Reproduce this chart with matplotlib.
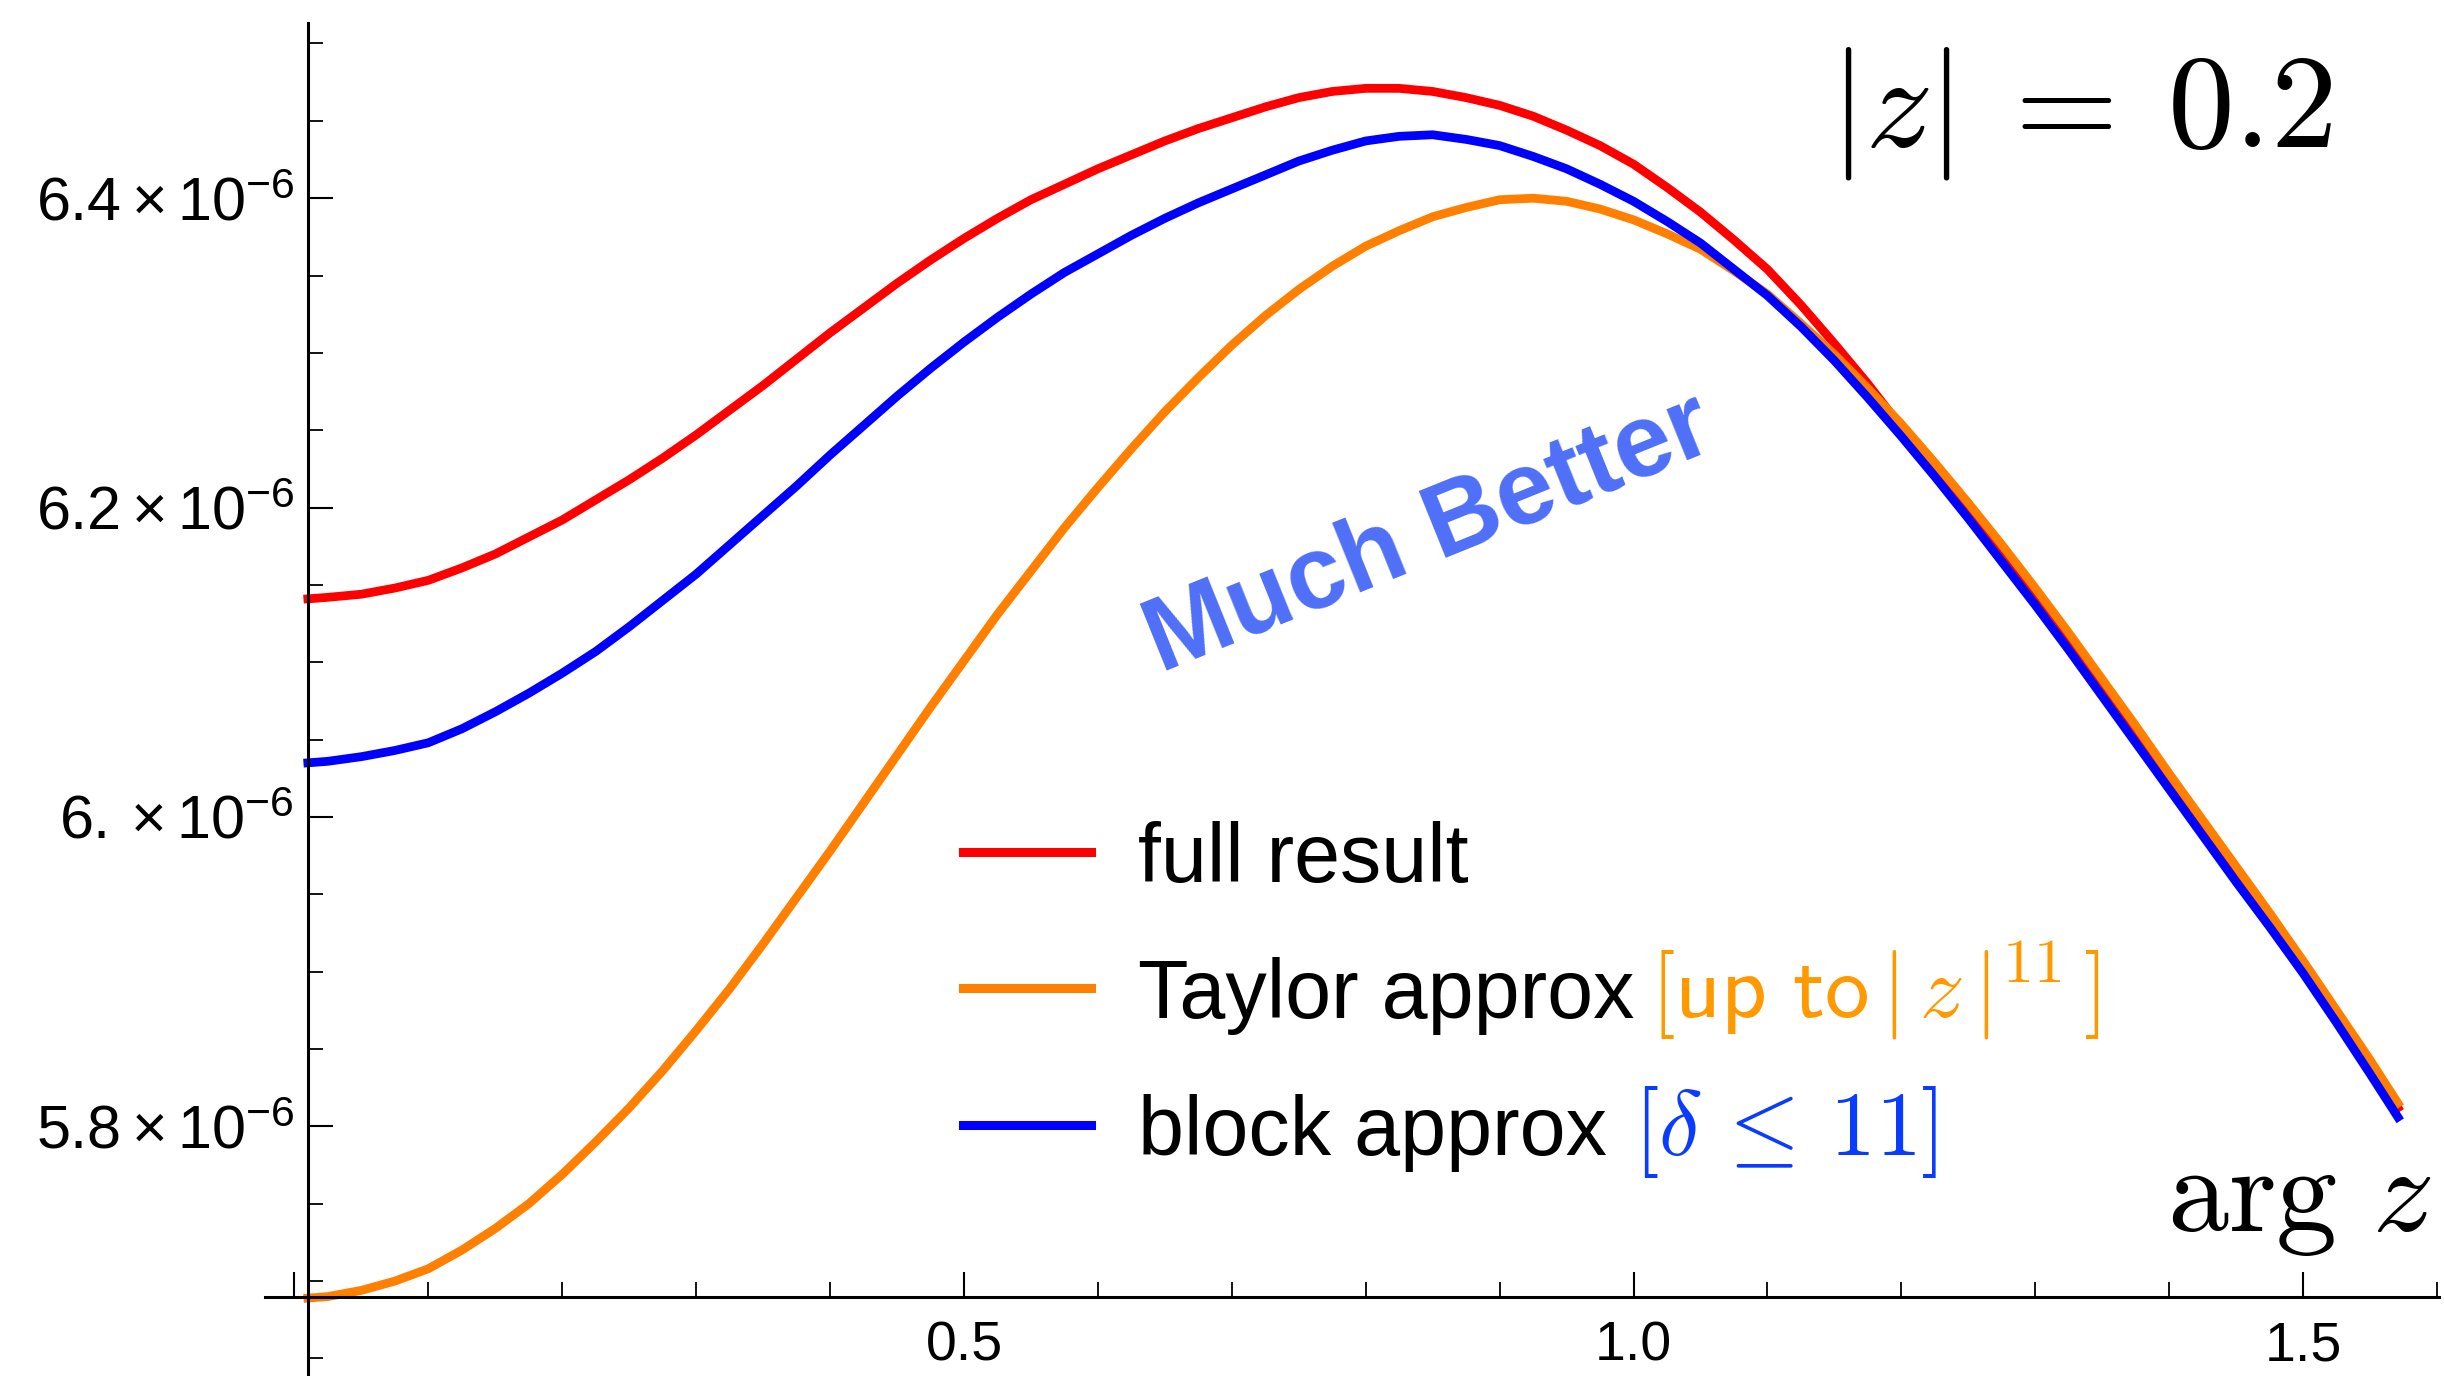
import numpy as np
import matplotlib
matplotlib.use('Agg')
import matplotlib.pyplot as plt
from matplotlib.lines import Line2D
from matplotlib.ticker import FixedLocator, FixedFormatter

# values (y in units of 1e-6)
arg_z = [0.01, 0.025, 0.05, 0.075, 0.10, 0.125, 0.15, 0.175, 0.20, 0.225,
         0.25, 0.275, 0.30, 0.325, 0.35, 0.375, 0.40, 0.425, 0.45, 0.475,
         0.50, 0.525, 0.55, 0.575, 0.60, 0.625, 0.65, 0.675, 0.70, 0.725,
         0.75, 0.775, 0.80, 0.825, 0.85, 0.875, 0.90, 0.925, 0.95, 0.975,
         1.00, 1.025, 1.05, 1.075, 1.10, 1.125, 1.15, 1.175, 1.20, 1.225,
         1.25, 1.275, 1.30, 1.325, 1.35, 1.375, 1.40, 1.425, 1.45, 1.475,
         1.50, 1.525, 1.55, 1.5708]
full_result = [6.141, 6.142, 6.144, 6.148, 6.153, 6.161, 6.170, 6.181, 6.192, 6.205,
               6.218, 6.232, 6.247, 6.263, 6.279, 6.296, 6.313, 6.329, 6.345, 6.360,
               6.374, 6.387, 6.399, 6.409, 6.419, 6.428, 6.437, 6.445, 6.452, 6.459,
               6.465, 6.469, 6.471, 6.471, 6.469, 6.465, 6.460, 6.453, 6.444, 6.434,
               6.422, 6.407, 6.391, 6.373, 6.354, 6.331, 6.306, 6.280, 6.252, 6.225,
               6.198, 6.170, 6.142, 6.113, 6.083, 6.053, 6.022, 5.993, 5.963, 5.933,
               5.903, 5.871, 5.839, 5.812]
taylor_approx = [5.689, 5.690, 5.694, 5.700, 5.708, 5.720, 5.734, 5.750, 5.769, 5.790,
                 5.812, 5.836, 5.862, 5.889, 5.918, 5.948, 5.978, 6.009, 6.040, 6.071,
                 6.101, 6.131, 6.159, 6.187, 6.213, 6.238, 6.262, 6.284, 6.305, 6.324,
                 6.341, 6.356, 6.369, 6.379, 6.388, 6.394, 6.399, 6.400, 6.398, 6.393,
                 6.386, 6.377, 6.367, 6.353, 6.338, 6.319, 6.299, 6.277, 6.254, 6.229,
                 6.203, 6.176, 6.148, 6.119, 6.089, 6.059, 6.028, 5.998, 5.968, 5.938,
                 5.907, 5.875, 5.843, 5.815]
block_approx = [6.035, 6.036, 6.039, 6.043, 6.048, 6.057, 6.068, 6.080, 6.093, 6.107,
                6.123, 6.140, 6.157, 6.176, 6.195, 6.214, 6.234, 6.253, 6.272, 6.290,
                6.307, 6.323, 6.338, 6.352, 6.364, 6.376, 6.387, 6.397, 6.406, 6.415,
                6.424, 6.431, 6.437, 6.440, 6.441, 6.438, 6.434, 6.427, 6.419, 6.409,
                6.398, 6.385, 6.371, 6.354, 6.337, 6.317, 6.295, 6.271, 6.246, 6.220,
                6.193, 6.165, 6.137, 6.108, 6.078, 6.048, 6.018, 5.988, 5.958, 5.929,
                5.899, 5.867, 5.834, 5.806]

x_major = [0.0, 0.5, 1.0, 1.5]
x_major_labels = ['', '0.5', '1.0', '1.5']
x_minor = [0.1, 0.2, 0.3, 0.4, 0.6, 0.7, 0.8, 0.9, 1.1, 1.2, 1.3, 1.4, 1.6]
y_major = [5.8e-6, 6.0e-6, 6.2e-6, 6.4e-6]
y_major_labels = [r'$5.8\times10^{-6}$', r'$6.\times10^{-6}$',
                  r'$6.2\times10^{-6}$', r'$6.4\times10^{-6}$']
y_minor = [5.65e-6, 5.70e-6, 5.75e-6, 5.85e-6, 5.90e-6, 5.95e-6, 6.05e-6,
           6.10e-6, 6.15e-6, 6.25e-6, 6.30e-6, 6.35e-6, 6.45e-6, 6.50e-6]

plt.rcParams['font.family'] = 'Liberation Sans'
plt.rcParams['mathtext.fontset'] = 'custom'
plt.rcParams['mathtext.rm'] = 'Liberation Sans'
plt.rcParams['mathtext.it'] = 'Liberation Sans:italic'

W, H = 2444, 1376
fig = plt.figure(figsize=(W / 100, H / 100), dpi=100)
ax = fig.add_axes([265 / W, 0, 2174 / W, 1 - 23 / H])
ax.patch.set_visible(False)
ax.set_xlim(-0.022, 1.6015)
ax.set_ylim(5.63865e-6, 6.51325e-6)

# curves
ax.plot(arg_z, np.array(full_result) * 1e-6, color='#ff0000', lw=6.3)
ax.plot(arg_z, np.array(taylor_approx) * 1e-6, color='#ff8000', lw=6.3)
ax.plot(arg_z, np.array(block_approx) * 1e-6, color='#0000ff', lw=6.3)

# Mathematica style crossing axes
for s in ['top', 'right']:
    ax.spines[s].set_visible(False)
ax.spines['left'].set_position(('data', 0.01))
ax.spines['bottom'].set_position(('data', 5.6895e-6))
ax.spines['left'].set_linewidth(2.2)
ax.spines['bottom'].set_linewidth(2.2)

ax.xaxis.set_major_locator(FixedLocator(x_major))
ax.xaxis.set_major_formatter(FixedFormatter(x_major_labels))
ax.xaxis.set_minor_locator(FixedLocator(x_minor))
ax.yaxis.set_major_locator(FixedLocator(y_major))
ax.yaxis.set_major_formatter(FixedFormatter(y_major_labels))
ax.yaxis.set_minor_locator(FixedLocator(y_minor))
ax.tick_params(which='major', direction='in', length=18, width=1.5)
ax.tick_params(which='minor', direction='in', length=11, width=1.3)
ax.tick_params(axis='y', which='major', pad=10, labelsize=44)
ax.tick_params(axis='x', which='major', pad=17, labelsize=40)


def fx(px):
    return px / W


def fy(py):
    return 1 - py / H


# legend drawn by hand (mixed colours in the labels)
leg_y = [852, 988, 1125]
leg_colors = ['#ff0000', '#ff8000', '#0000ff']
leg_text = ['full result', 'Taylor approx', 'block approx']
for yy, c, t in zip(leg_y, leg_colors, leg_text):
    fig.add_artist(Line2D([fx(963), fx(1091)], [fy(yy), fy(yy)], color=c, lw=6.5,
                          transform=fig.transFigure))
    fig.text(fx(1138), fy(yy + 30), t, fontsize=59.5, va='baseline')
fig.text(fx(1650), fy(988 + 30), r'$[\mathsf{up\ to}\,|\,z\,|^{11}\,]$',
         math_fontfamily='cm', color='#ff9900', fontsize=64, va='baseline')
fig.text(fx(1633), fy(1125 + 30), r'$[\delta\,\leq\,11]$', math_fontfamily='cm',
         color='#0a3cff', fontsize=66, va='baseline')

fig.text(fx(2333), fy(147), r'$|z|\:=\:0.2$', math_fontfamily='cm', fontsize=96,
         ha='right', va='baseline')
fig.text(fx(2432), fy(1231), r'$\arg\,z$', math_fontfamily='cm', fontsize=88,
         ha='right', va='baseline')
fig.text(fx(1430), fy(536), 'Much Better', fontsize=75, fontweight='bold',
         color='#4f6ff8', rotation=22, ha='center', va='center',
         rotation_mode='anchor')

fig.savefig('out.png', dpi=100)
